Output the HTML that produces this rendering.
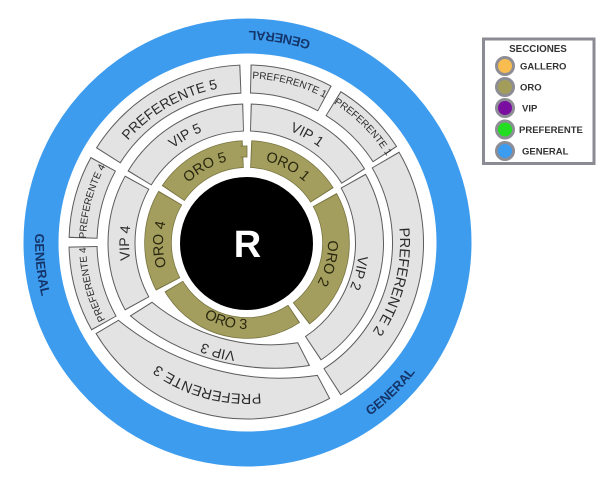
<!DOCTYPE html>
<html>
<head>
<meta charset="utf-8">
<style>
html,body{margin:0;padding:0;background:#fff;}
svg{display:block;}
.po{fill:none;stroke:#5c5c5c;stroke-width:29}
.pf{fill:none;stroke:#e3e3e3;stroke-width:27}
.vo{fill:none;stroke:#5c5c5c;stroke-width:28}
.vf{fill:none;stroke:#e3e3e3;stroke-width:26}
.oo{fill:none;stroke:#77723f;stroke-width:27.5}
.of{fill:none;stroke:#a39e5e;stroke-width:26}
.lg{font-family:"Liberation Sans",sans-serif;fill:#2b2b2b;}
.lo{font-family:"Liberation Sans",sans-serif;fill:#29260f;}
.gen{font-family:"Liberation Sans",sans-serif;fill:#14356a;font-weight:bold;font-size:13px;}
.leg{font-family:"Liberation Sans",sans-serif;fill:#333;font-weight:bold;font-size:9.5px;}
</style>
</head>
<body>
<svg width="611" height="480" viewBox="0 0 611 480" xmlns="http://www.w3.org/2000/svg">
<defs>
<path id="p157" d="M90 243A157 157 0 0 1 404 243"/>
<path id="p120" d="M127 243A120 120 0 0 1 367 243"/>
<path id="p84" d="M163 243A84 84 0 0 1 331 243"/>
<path id="p164" d="M82.5 243A164.5 164.5 0 0 1 411.5 243"/>
<path id="p81" d="M166 243A81 81 0 0 1 328 243"/>
<path id="p109" d="M138 243A109 109 0 0 1 356 243"/>
<path id="p151" d="M96 243A151 151 0 0 1 398 243"/>
<path id="p118" d="M129 243A118 118 0 0 1 365 243"/>
<path id="p161" d="M86 243A161 161 0 0 1 408 243"/>
<path id="q116" d="M127 243A116 116 0 0 1 359 243"/>
<path id="q157" d="M86 243A157 157 0 0 1 400 243"/>
<path id="c86" d="M333 243A86 86 0 0 0 161 243"/>
<path id="c212" d="M459 243A212 212 0 0 0 35 243"/>
</defs>

<!-- Blue GENERAL ring -->
<circle cx="247.5" cy="242.5" r="206.5" fill="none" stroke="#3d9cee" stroke-width="35"/>

<!-- PREFERENTE ring -->
<path class="po" pathLength="360" stroke-dasharray="55.7 400" transform="rotate(212.15 247 243)" d="M411 243A164 164 0 1 1 83 243A164 164 0 1 1 411 243"/>
<path class="pf" pathLength="360" stroke-dasharray="55 400" transform="rotate(212.5 247 243)" d="M411 243A164 164 0 1 1 83 243A164 164 0 1 1 411 243"/>

<path class="po" pathLength="360" stroke-dasharray="27.2 400" transform="rotate(-88.85 247 243)" d="M411 243A164 164 0 1 1 83 243A164 164 0 1 1 411 243"/>
<path class="pf" pathLength="360" stroke-dasharray="26.5 400" transform="rotate(-88.5 247 243)" d="M411 243A164 164 0 1 1 83 243A164 164 0 1 1 411 243"/>

<path class="po" pathLength="360" stroke-dasharray="25.7 400" transform="rotate(-58.35 247 243)" d="M411 243A164 164 0 1 1 83 243A164 164 0 1 1 411 243"/>
<path class="pf" pathLength="360" stroke-dasharray="25 400" transform="rotate(-58 247 243)" d="M411 243A164 164 0 1 1 83 243A164 164 0 1 1 411 243"/>

<path class="po" pathLength="360" stroke-dasharray="28.2 400" transform="rotate(150.65 247 243)" d="M411 243A164 164 0 1 1 83 243A164 164 0 1 1 411 243"/>
<path class="pf" pathLength="360" stroke-dasharray="27.5 400" transform="rotate(151 247 243)" d="M411 243A164 164 0 1 1 83 243A164 164 0 1 1 411 243"/>

<path class="po" pathLength="360" stroke-dasharray="27.2 400" transform="rotate(181.65 247 243)" d="M411 243A164 164 0 1 1 83 243A164 164 0 1 1 411 243"/>
<path class="pf" pathLength="360" stroke-dasharray="26.5 400" transform="rotate(182 247 243)" d="M411 243A164 164 0 1 1 83 243A164 164 0 1 1 411 243"/>

<!-- PREFERENTE 2 (shifted center) -->
<path class="po" style="stroke-width:32" pathLength="360" stroke-dasharray="87.7 400" transform="rotate(-30.35 243 243)" d="M408 243A165 165 0 1 1 78 243A165 165 0 1 1 408 243"/>
<path class="pf" style="stroke-width:30" pathLength="360" stroke-dasharray="87 400" transform="rotate(-30 243 243)" d="M408 243A165 165 0 1 1 78 243A165 165 0 1 1 408 243"/>

<!-- PREFERENTE 3 -->
<path d="M329.6 398.4A176 176 0 0 1 96.1 333.6L118.4 320.3A255 255 0 0 0 317.4 375.4Z" fill="#e3e3e3" stroke="#5c5c5c" stroke-width="1"/>

<!-- VIP ring -->
<path class="vo" pathLength="360" stroke-dasharray="56.4 400" transform="rotate(-88.46 247 243)" d="M372.5 243A125.5 125.5 0 1 1 121.5 243A125.5 125.5 0 1 1 372.5 243"/>
<path class="vf" pathLength="360" stroke-dasharray="55.5 400" transform="rotate(-88 247 243)" d="M372.5 243A125.5 125.5 0 1 1 121.5 243A125.5 125.5 0 1 1 372.5 243"/>

<path class="vo" pathLength="360" stroke-dasharray="57.4 400" transform="rotate(211.04 247 243)" d="M372.5 243A125.5 125.5 0 1 1 121.5 243A125.5 125.5 0 1 1 372.5 243"/>
<path class="vf" pathLength="360" stroke-dasharray="56.5 400" transform="rotate(211.5 247 243)" d="M372.5 243A125.5 125.5 0 1 1 121.5 243A125.5 125.5 0 1 1 372.5 243"/>

<path class="vo" pathLength="360" stroke-dasharray="57.9 400" transform="rotate(151.04 247 243)" d="M372.5 243A125.5 125.5 0 1 1 121.5 243A125.5 125.5 0 1 1 372.5 243"/>
<path class="vf" pathLength="360" stroke-dasharray="57 400" transform="rotate(151.5 247 243)" d="M372.5 243A125.5 125.5 0 1 1 121.5 243A125.5 125.5 0 1 1 372.5 243"/>

<path class="vo" style="stroke-width:29" pathLength="360" stroke-dasharray="85.9 400" transform="rotate(-29.45 243 243)" d="M369.5 243A126.5 126.5 0 1 1 116.5 243A126.5 126.5 0 1 1 369.5 243"/>
<path class="vf" style="stroke-width:27" pathLength="360" stroke-dasharray="85 400" transform="rotate(-29 243 243)" d="M369.5 243A126.5 126.5 0 1 1 116.5 243A126.5 126.5 0 1 1 369.5 243"/>

<!-- VIP 3 -->
<path d="M309.4 365.5A225 225 0 0 1 130.4 315.9L152 302.3A187 187 0 0 0 297.8 342.8Z" fill="#e3e3e3" stroke="#5c5c5c" stroke-width="1"/>

<!-- ORO ring -->
<path class="oo" pathLength="360" stroke-dasharray="55.2 400" transform="rotate(-87.6 247 243)" d="M336 243A89 89 0 1 1 158 243A89 89 0 1 1 336 243"/>
<path class="of" pathLength="360" stroke-dasharray="54 400" transform="rotate(-87 247 243)" d="M336 243A89 89 0 1 1 158 243A89 89 0 1 1 336 243"/>

<path class="oo" pathLength="360" stroke-dasharray="81.7 400" transform="rotate(-29.1 247 243)" d="M336 243A89 89 0 1 1 158 243A89 89 0 1 1 336 243"/>
<path class="of" pathLength="360" stroke-dasharray="80.5 400" transform="rotate(-28.5 247 243)" d="M336 243A89 89 0 1 1 158 243A89 89 0 1 1 336 243"/>

<path class="oo" pathLength="360" stroke-dasharray="58.2 400" transform="rotate(152.4 247 243)" d="M336 243A89 89 0 1 1 158 243A89 89 0 1 1 336 243"/>
<path class="of" pathLength="360" stroke-dasharray="57 400" transform="rotate(153 247 243)" d="M336 243A89 89 0 1 1 158 243A89 89 0 1 1 336 243"/>

<path class="oo" pathLength="360" stroke-dasharray="53.7 400" transform="rotate(213.9 247 243)" d="M336 243A89 89 0 1 1 158 243A89 89 0 1 1 336 243"/>
<path class="of" pathLength="360" stroke-dasharray="52.5 400" transform="rotate(214.5 247 243)" d="M336 243A89 89 0 1 1 158 243A89 89 0 1 1 336 243"/>

<path class="oo" style="stroke-width:21.5" pathLength="360" stroke-dasharray="93.3 400" transform="rotate(56.33 247 243)" d="M332 243A85 85 0 1 1 162 243A85 85 0 1 1 332 243"/>
<path class="of" style="stroke-width:20" pathLength="360" stroke-dasharray="92 400" transform="rotate(57 247 243)" d="M332 243A85 85 0 1 1 162 243A85 85 0 1 1 332 243"/>

<!-- ORO 5 notch -->
<rect x="241" y="146" width="6" height="11" fill="#a39e5e" stroke="#77723f" stroke-width="0.8"/>
<rect x="239.5" y="146.5" width="2.2" height="10" fill="#a39e5e"/>

<!-- Centre -->
<circle cx="246.5" cy="243.5" r="66.5" fill="#000"/>
<text x="247.5" y="257" text-anchor="middle" font-family="Liberation Sans, sans-serif" font-weight="bold" font-size="38" fill="#fff">R</text>

<!-- Labels: PREFERENTE -->
<text class="lg" font-size="14" transform="rotate(330 247 243)"><textPath href="#p157" startOffset="50%" text-anchor="middle">PREFERENTE 5</textPath></text>
<text class="lg" font-size="10" transform="rotate(15 247 243)"><textPath href="#p164" startOffset="50%" text-anchor="middle">PREFERENTE 1</textPath></text>
<text class="lg" font-size="10" transform="rotate(45 247 243)"><textPath href="#p164" startOffset="50%" text-anchor="middle">PREFERENTE 1</textPath></text>
<text class="lg" font-size="14.5" transform="rotate(104.5 243 243)"><textPath href="#q157" startOffset="50%" text-anchor="middle">PREFERENTE 2</textPath></text>
<text class="lg" font-size="14.5" transform="rotate(195.5 247 243)"><textPath href="#p151" startOffset="50%" text-anchor="middle">PREFERENTE 3</textPath></text>
<text class="lg" font-size="10" transform="rotate(255 247 243)"><textPath href="#p161" startOffset="50%" text-anchor="middle">PREFERENTE 4</textPath></text>
<text class="lg" font-size="10" transform="rotate(285 247 243)"><textPath href="#p161" startOffset="50%" text-anchor="middle">PREFERENTE 4</textPath></text>

<!-- Labels: VIP -->
<text class="lg" font-size="14" transform="rotate(330 247 243)"><textPath href="#p120" startOffset="50%" text-anchor="middle">VIP 5</textPath></text>
<text class="lg" font-size="14" transform="rotate(29 247 243)"><textPath href="#p120" startOffset="50%" text-anchor="middle">VIP 1</textPath></text>
<text class="lg" font-size="14" transform="rotate(104.5 243 243)"><textPath href="#q116" startOffset="50%" text-anchor="middle">VIP 2</textPath></text>
<text class="lg" font-size="14" transform="rotate(195 247 243)"><textPath href="#p109" startOffset="50%" text-anchor="middle">VIP 3</textPath></text>
<text class="lg" font-size="14" transform="rotate(270 247 243)"><textPath href="#p118" startOffset="50%" text-anchor="middle">VIP 4</textPath></text>

<!-- Labels: ORO -->
<text class="lo" font-size="14.5" transform="rotate(331 247 243)"><textPath href="#p84" startOffset="50%" text-anchor="middle">ORO 5</textPath></text>
<text class="lo" font-size="14.5" transform="rotate(28 247 243)"><textPath href="#p84" startOffset="50%" text-anchor="middle">ORO 1</textPath></text>
<text class="lo" font-size="14.5" transform="rotate(104 247 243)"><textPath href="#p81" startOffset="50%" text-anchor="middle">ORO 2</textPath></text>
<text class="lo" font-size="14.5" transform="rotate(195 247 243)"><textPath href="#c86" startOffset="50%" text-anchor="middle">ORO 3</textPath></text>
<text class="lo" font-size="14.5" transform="rotate(269 247 243)"><textPath href="#p84" startOffset="50%" text-anchor="middle">ORO 4</textPath></text>

<!-- Labels: GENERAL -->
<text class="gen" transform="rotate(9 247 243)"><textPath href="#c212" startOffset="50%" text-anchor="middle">GENERAL</textPath></text>
<text class="gen" transform="rotate(264 247 243)"><textPath href="#c212" startOffset="50%" text-anchor="middle">GENERAL</textPath></text>
<text class="gen" transform="rotate(136 247 243)"><textPath href="#c212" startOffset="50%" text-anchor="middle">GENERAL</textPath></text>

<!-- Legend -->
<rect x="483.5" y="39" width="110.5" height="124.5" fill="#fff" stroke="#8b8b93" stroke-width="3"/>
<text x="538" y="52" text-anchor="middle" class="leg" style="font-size:9.8px">SECCIONES</text>

<circle cx="505" cy="66" r="8.5" fill="#f9bd4f" stroke="#8d8d95" stroke-width="3"/>
<text x="520" y="69.5" class="leg">GALLERO</text>

<circle cx="505" cy="87" r="8.5" fill="#a39d5c" stroke="#8d8d95" stroke-width="3"/>
<text x="520" y="90.5" class="leg">ORO</text>

<circle cx="505" cy="108" r="8.5" fill="#7a0ea0" stroke="#8d8d95" stroke-width="3"/>
<text x="522" y="111.5" class="leg">VIP</text>

<circle cx="505" cy="129.5" r="8.5" fill="#22dd22" stroke="#8d8d95" stroke-width="3"/>
<text x="519" y="133" class="leg">PREFERENTE</text>

<circle cx="505" cy="151" r="8.5" fill="#3b9cf0" stroke="#8d8d95" stroke-width="3"/>
<text x="522" y="154.5" class="leg">GENERAL</text>
</svg>
</body>
</html>
